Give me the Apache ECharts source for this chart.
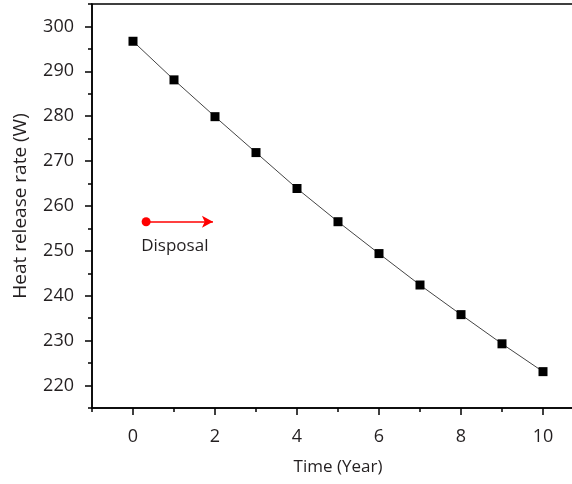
<!DOCTYPE html>
<html>
<head>
<meta charset="utf-8">
<script src="https://cdn.jsdelivr.net/npm/echarts@6/dist/echarts.min.js"></script>
<style>
  html, body { margin: 0; padding: 0; background: #fff; }
  #chart { width: 572px; height: 484px; }
</style>
</head>
<body>
<div id="chart"></div>
<script>
// 数据
const years = [0, 1, 2, 3, 4, 5, 6, 7, 8, 9, 10];
const heatRate = [296.7, 288.1, 279.9, 271.9, 263.9, 256.5, 249.4, 242.4, 235.8, 229.3, 223.1];

// 刻度
const xMajor = [0, 2, 4, 6, 8, 10];
const xMinor = [-1, 1, 3, 5, 7, 9, 11];
const yMajor = [220, 230, 240, 250, 260, 270, 280, 290, 300];
const yMinor = [215, 225, 235, 245, 255, 265, 275, 285, 295, 305];

// 标注
const disposalArrow = [[0.32, 256.5], [1.95, 256.5]];
const disposalText = [[1.02, 251.0]];

const fontFamily = '"Open Sans", "Noto Sans", sans-serif';
const textColor = '#231f20';

const chart = echarts.init(document.getElementById('chart'));

const option = {
	animation: false,
	grid: {
		left: 92,
		top: 4,
		width: 492,
		height: 404,
		outerBoundsMode: 'none',
		containLabel: false,
		show: true,
		borderColor: '#000',
		borderWidth: 1.5,
		backgroundColor: 'transparent'
	},
	xAxis: [
		{
			type: 'value',
			position: 'bottom',
			min: -1,
			max: 11,
			name: 'Time (Year)',
			nameLocation: 'middle',
			nameGap: 51,
			nameTextStyle: { fontFamily: fontFamily, fontSize: 17, color: textColor },
			axisLine: { onZero: false, lineStyle: { color: '#000', width: 1.5 } },
			axisTick: { customValues: xMajor, length: 7, lineStyle: { color: '#000', width: 1.5 } },
			axisLabel: { customValues: xMajor, margin: 20, fontFamily: fontFamily, fontSize: 18, color: textColor },
			splitLine: { show: false }
		},
		{
			type: 'value',
			position: 'bottom',
			min: -1,
			max: 11,
			axisLine: { show: false, onZero: false },
			axisTick: { customValues: xMinor, length: 4, lineStyle: { color: '#000', width: 1.5 } },
			axisLabel: { show: false },
			splitLine: { show: false }
		}
	],
	yAxis: [
		{
			type: 'value',
			position: 'left',
			min: 215,
			max: 305,
			name: 'Heat release rate (W)',
			nameLocation: 'middle',
			nameGap: 62,
			nameTextStyle: { fontFamily: fontFamily, fontSize: 19, color: textColor },
			axisLine: { onZero: false, lineStyle: { color: '#000', width: 1.5 } },
			axisTick: { customValues: yMajor, length: 7, lineStyle: { color: '#000', width: 1.5 } },
			axisLabel: { customValues: yMajor, margin: 18, fontFamily: fontFamily, fontSize: 18, color: textColor },
			splitLine: { show: false }
		},
		{
			type: 'value',
			position: 'left',
			min: 215,
			max: 305,
			axisLine: { show: false, onZero: false },
			axisTick: { customValues: yMinor, length: 4, lineStyle: { color: '#000', width: 1.5 } },
			axisLabel: { show: false },
			splitLine: { show: false }
		}
	],
	series: [
		{
			name: 'heat',
			type: 'line',
			data: years.map((x, i) => [x, heatRate[i]]),
			symbol: 'rect',
			symbolSize: 9,
			itemStyle: { color: '#000' },
			lineStyle: { color: '#444', width: 1 }
		},
		{
			name: 'disposal',
			type: 'scatter',
			data: disposalText,
			symbolSize: 0,
			itemStyle: { opacity: 1 },
			label: {
				show: true,
				position: 'inside',
				formatter: 'Disposal',
				fontFamily: fontFamily,
				fontSize: 17,
				color: textColor
			},
			markLine: {
				silent: true,
				symbol: ['circle', 'arrow'],
				symbolSize: [9, 11],
				label: { show: false },
				lineStyle: { color: '#ff0000', width: 1.5, type: 'solid', opacity: 1 },
				itemStyle: { color: '#ff0000' },
				data: [[{ coord: disposalArrow[0] }, { coord: disposalArrow[1] }]]
			}
		}
	]
};

chart.setOption(option);
</script>
</body>
</html>
